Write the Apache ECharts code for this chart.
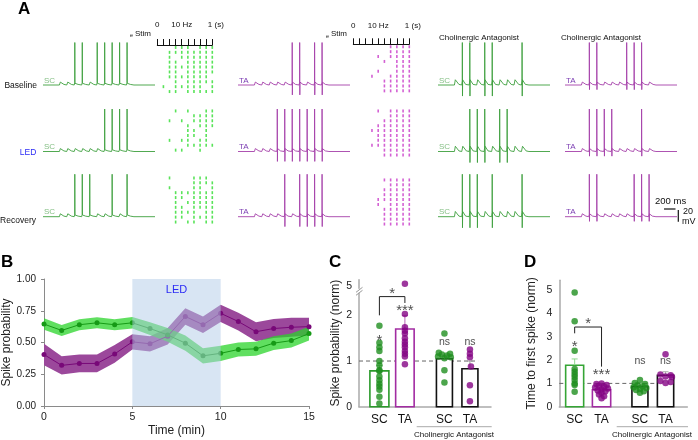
<!DOCTYPE html>
<html><head><meta charset="utf-8">
<script src="https://cdn.jsdelivr.net/npm/echarts@6/dist/echarts.min.js"></script>
<style>html,body{margin:0;padding:0;background:#fff}#c{width:698px;height:440px}</style>
</head><body><div id="c"></div>
<script>
// ================= DATA =================
// Panel A: 10 Hz stimulus train (ms) and the stimulus indices that evoked a spike
const stimTimes = [220,320,420,520,620,720,820,920,1020,1120];
const spkSC_base = [2,3,5,6,7,8,9];
const spkSC_led  = [6,7,8,9];
const spkSC_rec  = [2,3,4,7,9];
const spkTA_base = [5,6,8,9];
const spkTA_led  = [3,4,5,6,7,8,9];
const spkTA_rec  = [4,6,7,8,9];
const spkSCant_base = [1,2,4,5,9];
const spkSCant_led  = [2,3,4,6,7];
const spkSCant_rec  = [1,2,3,5,9];
const spkTAant_base = [1,2,6,7,8];
const spkTAant_led  = [1,2,3,4,8];
const spkTAant_rec  = [1,2,7,8,9];
// Rasters: one string per trial, one char per stimulus (1 = spike)
const rasterSC_base = ['0001110111','0011111111','0010111111','0011011111','0011111111','0011011111','0011111110','0001011111','0101111101','0011011111'];
const rasterSC_led  = ['0001010011','0000001111','0010101111','0000010111','0000011010','0000011010','0010110110','0000011111','0001100100','0000000000'];
const rasterSC_rec  = ['0010001110','0000001111','0010001101','0001111111','0001101111','0001011111','0001101111','0001111011','0001101111','0001011011'];
const rasterTA_base = ['0000001111','0000001111','0000101111','0000010111','0000000111','0000100111','0001001111','0000011111','0000011111','0000011111'];
const rasterTA_led  = ['0000101111','0000001111','0000011111','0000111111','0001111111','0000111111','0000111111','0001111111','0000011111','0000011111'];
const rasterTA_rec  = ['0000011111','0000001111','0000011111','0000011111','0000111111','0000101111','0000011111','0000011111','0000011111','0000011111'];
const rulerLabels = ['0','10 Hz','1 (s)'];

// Panel B
const timeMin = [0,1,2,3,4,5,6,7,8,9,10,11,12,13,14,15];
const scProb = [0.645,0.595,0.64,0.655,0.64,0.655,0.61,0.56,0.495,0.395,0.415,0.445,0.45,0.495,0.515,0.57];
const scSem  = [0.045,0.043,0.043,0.043,0.043,0.045,0.05,0.055,0.06,0.06,0.06,0.055,0.055,0.055,0.055,0.055];
const taProb = [0.405,0.32,0.335,0.335,0.41,0.505,0.49,0.55,0.705,0.64,0.73,0.665,0.585,0.61,0.62,0.625];
const taSem  = [0.085,0.072,0.07,0.07,0.07,0.06,0.06,0.065,0.065,0.065,0.068,0.07,0.075,0.075,0.075,0.07];
const bYTicks = ['0.00','0.25','0.50','0.75','1.00'];

// Panel C (spike probability, norm)
const groupLabels = ['SC','TA','SC','TA'];
const cMean = [0.785,1.70,1.05,0.83];
const cSem  = [0.12,0.30,0.08,0.17];
const cSC   = [1.77,1.40,1.30,1.22,1.0,0.91,0.80,0.78,0.66,0.58,0.50,0.44,0.37,0.22,0.07];
const cTA   = [5.1,2.03,1.74,1.66,1.60,1.50,1.42,1.36,1.30,1.22,1.16,1.10,0.93];
const cSCa  = [1.60,1.18,1.16,1.14,1.12,1.10,1.08,1.06,0.80,0.53];
const cSCaJ = [0,-0.22,0.22,-0.1,0.1,-0.25,0.25,0,0,0];
const cTAa  = [1.25,1.16,1.08,0.88,0.47,0.12];
const cTAaJ = [0,0,0,0.04,0,0];

// Panel D (time to first spike, norm)
const dMean = [1.78,0.73,0.86,1.35];
const dSem  = [0.27,0.06,0.05,0.15];
const dSC   = [4.9,3.67,2.4,1.62,1.5,1.38,1.28,1.15,1.0,0.93,0.64];
const dTA   = [1.0,0.97,0.93,0.9,0.86,0.82,0.78,0.74,0.7,0.66,0.6,0.52,0.45,0.36];
const dTAJ  = [0,-0.2,0.2,-0.1,0.1,-0.25,0.25,0,-0.15,0.15,0,-0.1,0.1,0];
const dSCa  = [1.15,1.02,0.97,0.92,0.88,0.84,0.80,0.76,0.72,0.66,0.60];
const dSCaJ = [0,-0.2,0.2,-0.1,0.1,-0.25,0.25,0,-0.15,0.15,0];
const dTAa  = [2.25,1.38,1.35,1.30,1.28,1.10,1.06,1.02];
const dTAaJ = [0,-0.2,0.2,0,0.25,-0.2,0.2,0];

// ================= LAYOUT / STYLE =================
const FONT = '"Liberation Sans", Arial, Helvetica, sans-serif';
const option = {animation:false, backgroundColor:'#fff', textStyle:{fontFamily:FONT},
  grid:[], xAxis:[], yAxis:[], series:[], graphic:{elements:[]}};
let gIdx = -1;
function addGrid(box, xa, ya){
  gIdx++;
  option.grid.push(Object.assign({outerBoundsMode:'none', containLabel:false, show:false}, box));
  option.xAxis.push(Object.assign({gridIndex:gIdx}, xa));
  option.yAxis.push(Object.assign({gridIndex:gIdx}, ya));
  return gIdx;
}
const G = option.graphic.elements;
function txt(x,y,text,st){ G.push({type:'text', x:x, y:y, silent:true, z:50,
  style:Object.assign({text:text, fill:'#111', fontSize:9, fontFamily:FONT, align:'left', verticalAlign:'middle'}, st||{})}); }
function seg(x1,y1,x2,y2,stroke,w){ G.push({type:'line', silent:true, z:50, shape:{x1:x1,y1:y1,x2:x2,y2:y2}, style:{stroke:stroke||'#000', lineWidth:w||1}}); }

// ---------- Panel A traces ----------
const REST = -65, PEAK = 8;
function buildTrace(spk, under, bump){
  const pts = [[0,REST]];
  stimTimes.forEach(function(t,k){
    if (spk.indexOf(k) >= 0) {
      pts.push([t,REST],[t+5,REST+bump*0.8],[t+6,PEAK],[t+8,under?REST-under:REST+3],[t+10,REST+bump],[t+50,REST+1],[t+98,REST]);
    } else {
      pts.push([t,REST],[t+12,REST+bump],[t+60,REST+1],[t+98,REST]);
    }
  });
  pts.push([1500,REST]);
  return pts;
}
const traceCols = [
  {left:43,  color:'#3d9f3d', lab:'SC', labColor:'#86c086', under:0,  bump:5, spikes:[spkSC_base,spkSC_led,spkSC_rec]},
  {left:238, color:'#a53fa9', lab:'TA', labColor:'#7e40b4', under:17, bump:5, spikes:[spkTA_base,spkTA_led,spkTA_rec]},
  {left:438, color:'#3d9f3d', lab:'SC', labColor:'#86c086', under:19, bump:9, spikes:[spkSCant_base,spkSCant_led,spkSCant_rec]},
  {left:565, color:'#a53fa9', lab:'TA', labColor:'#7e40b4', under:8,  bump:5, spikes:[spkTAant_base,spkTAant_led,spkTAant_rec]}
];
const rowBase = [85,151.5,216.7];
const pxPerMv = 64/110;
traceCols.forEach(function(c){
  rowBase.forEach(function(b,r){
    const g = addGrid({left:c.left, top:b-(20-REST)*pxPerMv, width:112, height:64},
      {type:'value', min:0, max:1500, show:false},
      {type:'value', min:-90, max:20, show:false});
    option.series.push({type:'line', xAxisIndex:g, yAxisIndex:g, data:buildTrace(c.spikes[r], c.under, c.bump),
      showSymbol:false, symbol:'none', silent:true, lineStyle:{color:c.color, width:0.9}, z:2});
    txt(c.left+1, b-4.5, c.lab, {fill:c.labColor, fontSize:8});
  });
});

// ---------- Panel A rasters ----------
const rasterCols = [
  {left:157.3, width:55, color:'#30dc30', tops:[45,108.5,175.5], rulerOff:7.7, data:[rasterSC_base,rasterSC_led,rasterSC_rec]},
  {left:353.3, width:56, color:'#c838c8', tops:[44.3,108.5,177.5], rulerOff:6, data:[rasterTA_base,rasterTA_led,rasterTA_rec]}
];
rasterCols.forEach(function(c){
  c.tops.forEach(function(top,r){
    const pts = [];
    c.data[r].forEach(function(row,i){
      for (let k=0;k<row.length;k++) if (row[k]==='1') pts.push([k*0.1, i+0.5]);
    });
    const xa = {type:'value', min:0, max:0.9, interval:0.1, show:r===0, position:'top', offset:c.rulerOff,
      axisLine:{show:true, lineStyle:{color:'#111', width:1}},
      axisTick:{show:true, length:6, inside:false, lineStyle:{color:'#111', width:1}},
      axisLabel:{show:true, fontSize:8, color:'#111', margin:9,
        formatter:function(v){ if (Math.abs(v)<1e-6) return rulerLabels[0]; if (Math.abs(v-0.4)<1e-6) return rulerLabels[1]; if (Math.abs(v-0.9)<1e-6) return '{s|'+rulerLabels[2]+'}'; return ''; },
        rich:{s:{fontSize:8, color:'#111', padding:[0,0,0,7]}}},
      splitLine:{show:false}};
    const g = addGrid({left:c.left, top:top, width:c.width, height:49}, xa,
      {type:'value', min:0, max:10, inverse:true, show:false});
    option.series.push({type:'scatter', xAxisIndex:g, yAxisIndex:g, data:pts, symbol:'rect', symbolSize:[1.6,3],
      itemStyle:{color:c.color}, silent:true, clip:false, z:2});
  });
});
// stim labels
txt(131.5,35.8,'e',{fontSize:5.5, align:'center'}); txt(135,33.3,'Stim',{fontSize:8});
txt(327.5,36.5,'e',{fontSize:5.5, align:'center'}); txt(331,33.8,'Stim',{fontSize:8});
txt(439,37.3,'Cholinergic Antagonist',{fontSize:8});
txt(561,37.3,'Cholinergic Antagonist',{fontSize:8});
// row labels
txt(37,86,'Baseline',{fontSize:8.5, align:'right'});
txt(28,153,'LED',{fontSize:8.5, align:'center', fill:'#2b2bf5'});
txt(36,220.7,'Recovery',{fontSize:8.5, align:'right'});
// scale bar
txt(655,201.5,'200 ms',{fontSize:9.5});
seg(664,209,675.5,209,'#111',1.2);
seg(678.3,210,678.3,221.7,'#111',1.2);
txt(683,211.7,'20',{fontSize:9});
txt(682,222,'mV',{fontSize:9});
// panel letters
txt(18,9.5,'A',{fontSize:17, fontWeight:'bold', fill:'#000'});
txt(1,262,'B',{fontSize:17, fontWeight:'bold', fill:'#000'});
txt(329,262,'C',{fontSize:17, fontWeight:'bold', fill:'#000'});
txt(524,262,'D',{fontSize:17, fontWeight:'bold', fill:'#000'});

// ---------- Panel B ----------
const axGray = '#8a8a8a';
const gB = addGrid({left:44, top:279, width:265, height:127},
  {type:'value', min:0, max:15, interval:5, axisLine:{show:true, lineStyle:{color:axGray, width:1}},
   axisTick:{show:true, length:3, lineStyle:{color:axGray}}, axisLabel:{fontSize:10.5, color:'#222', margin:6},
   splitLine:{show:false}, name:'Time (min)', nameLocation:'middle', nameGap:19, nameTextStyle:{fontSize:12, color:'#222'}},
  {type:'value', min:0, max:1, interval:0.25, axisLine:{show:true, lineStyle:{color:axGray, width:1}},
   axisTick:{show:true, length:3, lineStyle:{color:axGray}},
   axisLabel:{fontSize:10, color:'#222', margin:8, formatter:function(v){ return bYTicks[Math.round(v*4)]; }},
   splitLine:{show:false}, name:'Spike probability', nameLocation:'middle', nameGap:25, nameTextStyle:{fontSize:12, color:'#222'}});
// SEM bands: polygon through mean-sem and mean+sem at every time point
function band(mean, sem, color, z){
  option.series.push({type:'custom', xAxisIndex:gB, yAxisIndex:gB, silent:true, z:z,
    data:timeMin.map(function(t,i){return [t, mean[i]-sem[i], mean[i]+sem[i]];}),
    renderItem:function(params, api){
      if (params.dataIndex !== 0) return null;
      const up = [], lo = [];
      for (let i=0;i<timeMin.length;i++){
        up.push(api.coord([timeMin[i], mean[i]+sem[i]]));
        lo.push(api.coord([timeMin[i], mean[i]-sem[i]]));
      }
      return {type:'polygon', shape:{points:up.concat(lo.reverse())}, style:{fill:color}};
    }});
}
band(taProb, taSem, '#9b489b', 2);
band(scProb, scSem, 'rgba(40,212,40,0.74)', 3);
option.series.push(
  {type:'line', xAxisIndex:gB, yAxisIndex:gB, data:timeMin.map(function(t,i){return [t,taProb[i]];}), symbol:'circle', symbolSize:5,
   itemStyle:{color:'#780878'}, lineStyle:{color:'#780878', width:1}, silent:true, z:4},
  {type:'line', xAxisIndex:gB, yAxisIndex:gB, data:timeMin.map(function(t,i){return [t,scProb[i]];}), symbol:'circle', symbolSize:5,
   itemStyle:{color:'#169a16'}, lineStyle:{color:'#169a16', width:1}, silent:true, z:4},
  {type:'line', xAxisIndex:gB, yAxisIndex:gB, data:[], z:8, silent:true,
   markArea:{silent:true, z:10, itemStyle:{color:'rgba(178,204,232,0.5)'},
     label:{show:true, position:'insideTop', distance:5, color:'#2b2bf5', fontSize:11, fontFamily:FONT},
     data:[[{name:'LED', xAxis:5, yAxis:0},{xAxis:10, yAxis:1}]]}}
);

// ---------- Panels C & D ----------
function barPanel(box, yMax, yInterval, yFmt, xMax, pos, mean, sem, groups, borderCols, errCols, yName, nameGap, dashEnd, widths){
  const g = addGrid(box,
    {type:'value', min:0, max:xMax, interval:0.05, axisLine:{show:true, lineStyle:{color:'#aaa', width:1.5}},
     axisTick:{show:false}, splitLine:{show:false},
     axisLabel:{fontSize:12, color:'#111', margin:7, showMaxLabel:false, formatter:function(v){
       for (let i=0;i<pos.length;i++) if (Math.abs(v-pos[i])<1e-6) return groupLabels[i]; return ''; }}},
    {type:'value', min:0, max:yMax, interval:yInterval, axisLine:{show:true, lineStyle:{color:'#aaa', width:1.5}},
     axisTick:{show:false}, splitLine:{show:false},
     axisLabel:{fontSize:10.5, color:'#222', margin:7, showMaxLabel:false, formatter:yFmt},
     name:yName, nameLocation:'middle', nameGap:nameGap, nameTextStyle:{fontSize:12, color:'#222'}});
  option.series.push({type:'line', xAxisIndex:g, yAxisIndex:g, data:[[0,1],[dashEnd,1]], symbol:'none', silent:true,
    lineStyle:{color:'#666', width:1, type:[4,3]}, z:1});
  option.series.push({type:'custom', xAxisIndex:g, yAxisIndex:g, silent:true, z:2,
    data:mean.map(function(m,i){return [pos[i], m];}),
    renderItem:function(params, api){
      const i = params.dataIndex, w = widths[i];
      const p0 = api.coord([api.value(0),0]), p1 = api.coord([api.value(0),api.value(1)]);
      return {type:'rect', shape:{x:p0[0]-w/2, y:p1[1], width:w, height:p0[1]-p1[1]},
        style:{fill:'#fff', stroke:borderCols[i], lineWidth:1.6}};
    }});
  option.series.push({type:'custom', xAxisIndex:g, yAxisIndex:g, silent:true, z:3,
    data:mean.map(function(m,i){return [pos[i], m, m+sem[i]];}),
    renderItem:function(params, api){
      const i = params.dataIndex;
      const a = api.coord([api.value(0),api.value(1)]), b = api.coord([api.value(0),api.value(2)]);
      return {type:'group', children:[
        {type:'line', shape:{x1:a[0],y1:a[1],x2:b[0],y2:b[1]}, style:{stroke:errCols[i], lineWidth:1}},
        {type:'line', shape:{x1:b[0]-3,y1:b[1],x2:b[0]+3,y2:b[1]}, style:{stroke:errCols[i], lineWidth:1}}]};
    }});
  groups.forEach(function(gr){
    option.series.push({type:'scatter', xAxisIndex:g, yAxisIndex:g, silent:true, z:4, symbolSize:6.5,
      itemStyle:{color:gr.color}, data:gr.vals.map(function(v,j){return [pos[gr.i]+(gr.jit?gr.jit[j]:0), gr.tf?gr.tf(v):v];})});
  });
  return g;
}
const GREEN_PT = '#1f8f1f', PURPLE_PT = '#850585';
// C: broken y-axis (values above the break are drawn compressed so that 5 sits at 2.64)
function brk(v){ return v <= 2.3 ? v : 2.64 + (v-5)*0.5; }
const cPos = [0.8,1.8,3.35,4.35];
const gC = barPanel({left:359, top:279.7, width:132, height:127}, 2.78, 0.02,
  function(v){ if (Math.abs(v-2.64)<1e-6) return '5'; for (let k=0;k<3;k++) if (Math.abs(v-k)<1e-6) return String(k); return ''; },
  132/25.5, cPos, cMean, cSem,
  [{i:0, vals:cSC, color:GREEN_PT},{i:1, vals:cTA, color:PURPLE_PT, tf:brk},{i:2, vals:cSCa, jit:cSCaJ, color:GREEN_PT},{i:3, vals:cTAa, jit:cTAaJ, color:PURPLE_PT}],
  ['#2b9a2b','#a22ca2','#111','#111'], ['#80cf80','#b866b8','#999','#999'],
  'Spike probability (norm)', 17, 4.67, [19,18.5,16,16]);
const dPos = [0.6,1.65,3.15,4.15];
const gD = barPanel({left:559.3, top:280.2, width:128, height:126.5}, 5.43, 1,
  function(v){ return Math.abs(v-Math.round(v))<1e-6 ? String(Math.round(v)) : ''; },
  5.0, dPos, dMean, dSem,
  [{i:0, vals:dSC, color:GREEN_PT},{i:1, vals:dTA, jit:dTAJ, color:PURPLE_PT},{i:2, vals:dSCa, jit:dSCaJ, color:GREEN_PT},{i:3, vals:dTAa, jit:dTAaJ, color:PURPLE_PT}],
  ['#35a535','#a22ca2','#111','#111'], ['#8fd88f','#b866b8','#999','#aaa'],
  'Time to first spike (norm)', 22, 4.44, [18,18.3,16,16.3]);
// significance brackets and marks
function bracket(g, pts){ option.series.push({type:'line', xAxisIndex:g, yAxisIndex:g, data:pts, symbol:'none', silent:true,
  lineStyle:{color:'#222', width:1}, z:5}); }
bracket(gC, [[cPos[0],2.0],[cPos[0],2.41],[cPos[1],2.41],[cPos[1],2.27]]);
bracket(gD, [[dPos[0],3.15],[dPos[0],3.42],[dPos[1],3.42],[dPos[1],1.72]]);
function marks(g, items){ option.series.push({type:'scatter', xAxisIndex:g, yAxisIndex:g, symbolSize:1, silent:true, z:6,
  itemStyle:{color:'rgba(0,0,0,0)'},
  label:{show:true, position:'inside', color:'#222', fontFamily:FONT, formatter:function(p){return p.data.t;}},
  data:items.map(function(it){return {value:[it[0],it[1]], t:it[2], label:{fontSize:it[3]}};})}); }
marks(gC, [[(cPos[0]+cPos[1])/2,2.47,'*',15],[cPos[1],2.10,'***',15],[cPos[0],1.44,'*',15],[cPos[2],1.42,'ns',10.5],[cPos[3],1.42,'ns',10.5]]);
marks(gD, [[(dPos[0]+dPos[1])/2,3.55,'*',15],[dPos[0],2.55,'*',15],[dPos[1],1.37,'***',15],[dPos[2],1.97,'ns',10.5],[dPos[3],1.97,'ns',10.5]]);
// axis break on C
G.push({type:'rect', silent:true, z:49, shape:{x:355, y:288.8, width:9, height:4}, style:{fill:'#fff'}});
seg(356,292.3,362.5,287.3,'#999',1); seg(356,295.3,362.5,290.3,'#999',1);
// group annotations
seg(416.7,426.7,491.7,426.7,'#aaa',1); txt(454,434.5,'Cholinergic Antagonist',{fontSize:8, align:'center'});
seg(616.7,426.7,688,426.7,'#aaa',1); txt(652,434.5,'Cholinergic Antagonist',{fontSize:8, align:'center'});

const chart = echarts.init(document.getElementById('c'), null, {renderer:'canvas'});
chart.setOption(option);
</script></body></html>
